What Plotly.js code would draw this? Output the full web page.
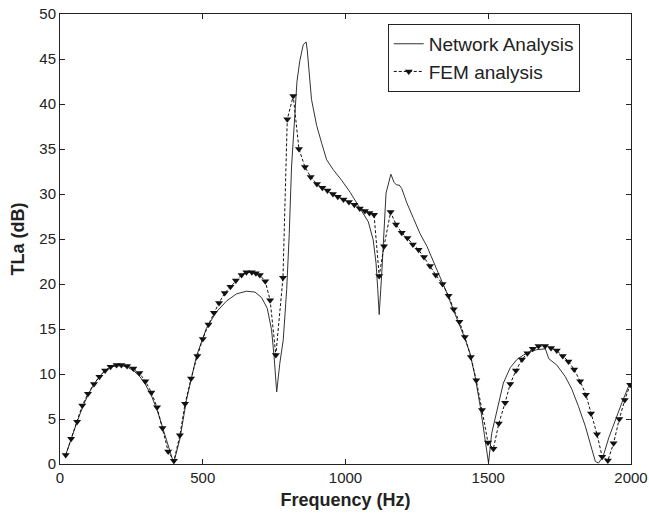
<!DOCTYPE html>
<html>
<head>
<meta charset="utf-8">
<script src="https://cdn.plot.ly/plotly-3.0.1.min.js"></script>
<style>html,body{margin:0;padding:0;background:#fff;}#chart{width:649px;height:519px;}</style>
</head>
<body>
<div id="chart"></div>
<script>
// Network Analysis (solid line)
const netFreq = [20,40,60,80,100,120,140,160,180,200,220,240,260,280,300,320,340,360,380,398,
  420,443,478,513,548,583,618,653,683,706,726,741,750,759,770,782,794,803,811,823,830,840,852,862,866,
  881,899,917,934,957,987,1016,1039,1060,1080,1097,1107,1113,1118,1127,1135,1142,1159,1170,1179,1188,1197,
  1215,1238,1261,1285,1308,1331,1355,1378,1401,1420,1436,1454,1472,1489,1497,1501,1512,1530,1553,1577,
  1600,1623,1647,1670,1700,1712,1740,1770,1793,1816,1840,1857,1875,1886,1902,1922,1945,1968,1991,2000];
const netTL = [1.0,2.9,4.7,6.4,7.8,8.9,9.8,10.4,10.8,10.9,10.9,10.7,10.3,9.7,8.8,7.6,6.0,4.0,1.8,0.1,
  2.8,7.1,12.0,15.1,16.9,18.1,18.9,19.2,19.1,18.5,17.3,14.9,11.9,8.0,11.2,13.8,19.4,25.6,33.0,38.6,42.5,44.8,46.6,46.9,46.0,
  40.5,37.6,35.6,33.8,32.7,31.5,30.2,29.0,28.0,26.9,24.9,22.3,19.4,16.6,21.2,26.8,30.1,32.2,31.3,31.0,31.0,30.6,
  29.0,27.3,25.6,24.2,22.5,20.8,19.0,17.1,15.3,13.8,12.3,9.7,6.4,2.7,1.1,0.1,3.4,6.0,9.0,10.7,
  11.6,12.1,12.5,12.7,12.8,11.7,11.0,9.7,8.3,6.4,4.2,2.3,0.3,0.1,0.8,2.9,4.9,6.8,8.6,9.0];

// FEM analysis (dashed line with down-triangle markers)
const femFreq = [20,39,60,78,98,119,138,158,177,198,215,235,257,278,299,320,340,359,379,399,
  420,438,459,481,500,520,539,557,577,597,616,636,653,672,686,700,719,736,756,781,796,817,837,858,878,
  900,919,937,956,973,993,1012,1031,1050,1068,1084,1100,1118,1135,1158,1177,1197,1217,1236,1256,1275,
  1296,1316,1340,1361,1379,1399,1418,1439,1458,1478,1499,1518,1537,1559,1577,1597,1618,1637,1656,1676,
  1699,1720,1740,1761,1781,1801,1822,1842,1860,1881,1899,1919,1939,1959,1978,1997];
const femTL = [1.0,2.8,4.7,6.5,7.8,8.9,9.7,10.4,10.8,11.0,11.0,10.9,10.6,10.1,9.2,7.95,6.3,4.0,1.4,0.35,
  3.2,6.7,9.5,12.0,13.9,15.5,16.8,17.9,19.0,19.7,20.4,21.0,21.3,21.3,21.2,21.0,20.3,18.2,12.1,20.7,38.3,40.9,35.0,33.0,31.9,
  31.1,30.7,30.4,30.0,29.7,29.4,29.1,28.8,28.4,28.1,27.9,27.7,20.9,24.2,28.0,26.6,25.7,25.1,24.4,23.8,23.0,
  22.0,21.0,20.0,18.7,17.2,15.8,14.1,11.9,9.3,6.0,2.4,1.7,4.5,6.8,8.9,10.4,11.6,12.3,12.8,13.1,
  13.1,12.9,12.6,12.0,11.4,10.5,9.2,7.7,5.6,3.3,0.8,0.4,2.3,5.0,7.1,8.8];

const xTicks = [0,500,1000,1500,2000];
const yTicks = [0,5,10,15,20,25,30,35,40,45,50];

const font = {family: 'Liberation Sans, Arial, sans-serif', color: '#222'};

const traces = [
  {x: netFreq, y: netTL, type: 'scatter', mode: 'lines', name: 'Network Analysis',
   line: {color: '#333', width: 1}},
  {x: femFreq, y: femTL, type: 'scatter', mode: 'lines+markers', name: 'FEM analysis',
   line: {color: '#111', width: 1, dash: '3px,2px'},
   marker: {symbol: 'triangle-down', size: 7, color: '#111'}}
];

const axisCommon = {
  showgrid: false, zeroline: false, showline: true, linecolor: '#222', linewidth: 1,
  mirror: 'ticks', ticks: 'inside', ticklen: 5, tickcolor: '#222',
  tickfont: Object.assign({size: 15}, font)
};

const layout = {
  width: 649, height: 519,
  margin: {l: 60, r: 18, t: 14, b: 55},
  paper_bgcolor: '#fff', plot_bgcolor: '#fff',
  showlegend: true,
  legend: {x: 0.574, y: 0.978, xanchor: 'left', yanchor: 'top',
    bordercolor: '#222', borderwidth: 1, bgcolor: '#fff',
    font: Object.assign({size: 19}, font), tracegroupgap: 0},
  xaxis: Object.assign({}, axisCommon, {range: [0, 2000], tickvals: xTicks, ticktext: xTicks.map(String),
    title: {text: 'Frequency (Hz)', font: Object.assign({size: 18, weight: 'bold'}, font), standoff: 8}}),
  yaxis: Object.assign({}, axisCommon, {range: [0, 50], tickvals: yTicks, ticktext: yTicks.map(String),
    title: {text: 'TLa (dB)', font: Object.assign({size: 18, weight: 'bold'}, font), standoff: 10}})
};

Plotly.newPlot('chart', traces, layout, {displayModeBar: false, staticPlot: true});
</script>
</body>
</html>
